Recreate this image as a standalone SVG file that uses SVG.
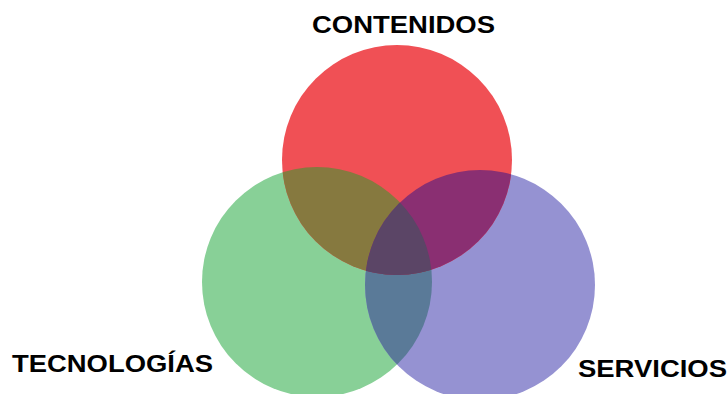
<svg xmlns="http://www.w3.org/2000/svg" width="728" height="394" viewBox="0 0 728 394">
<style>
.lbl{font-family:"Liberation Sans",Arial,sans-serif;font-weight:bold;font-size:24px;fill:#000}
</style>
<defs>
<clipPath id="cG"><circle cx="317" cy="282" r="115"/></clipPath>
<clipPath id="cP"><circle cx="480" cy="285" r="115"/></clipPath>
<clipPath id="cR"><circle cx="397" cy="160" r="115"/></clipPath>
</defs>
<rect width="728" height="394" fill="#fff"/>
<g id="tecnologias">
<circle cx="317" cy="282" r="115" fill="#88D097"/>
<text class="lbl" x="12" y="372" textLength="201" lengthAdjust="spacingAndGlyphs">TECNOLOGÍAS</text>
</g>
<g id="servicios">
<circle cx="480" cy="285" r="115" fill="#9592D2"/>
<text class="lbl" x="578" y="377" textLength="149" lengthAdjust="spacingAndGlyphs">SERVICIOS</text>
</g>
<g id="contenidos">
<circle cx="397" cy="160" r="115" fill="#F05055"/>
<text class="lbl" x="312" y="33" textLength="183" lengthAdjust="spacingAndGlyphs">CONTENIDOS</text>
</g>
<g id="overlaps">
<circle cx="480" cy="285" r="115" fill="#5A7A98" clip-path="url(#cG)"/>
<circle cx="397" cy="160" r="115" fill="#86793F" clip-path="url(#cG)"/>
<circle cx="397" cy="160" r="115" fill="#8A2F72" clip-path="url(#cP)"/>
<g clip-path="url(#cG)"><circle cx="397" cy="160" r="115" fill="#5B4566" clip-path="url(#cP)"/></g>
</g>
</svg>
